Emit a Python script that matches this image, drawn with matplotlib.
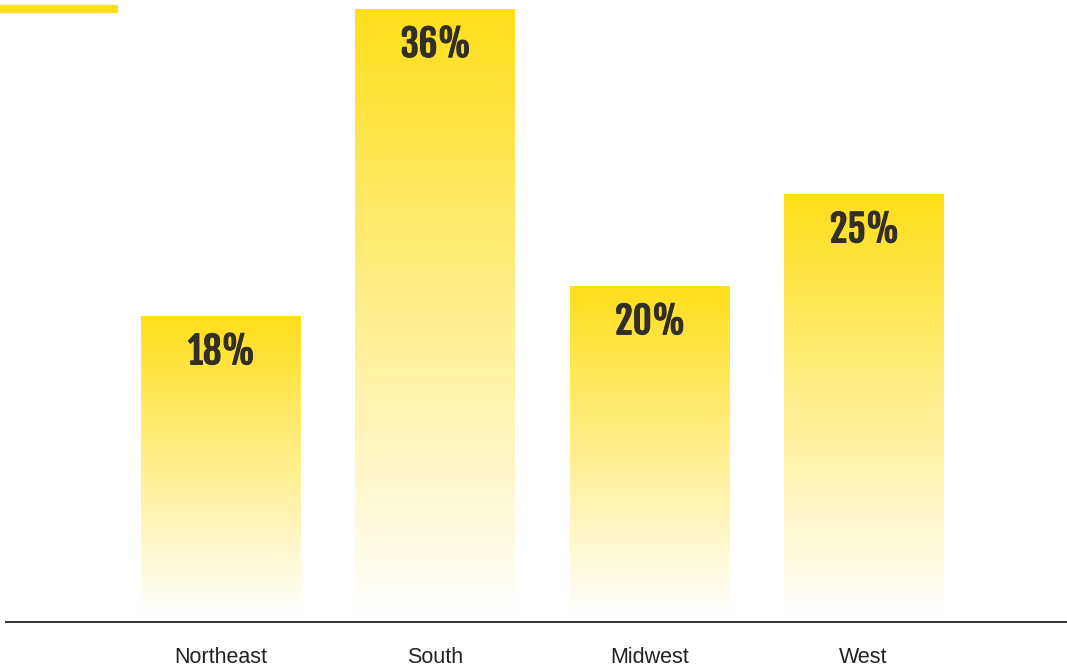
import matplotlib
matplotlib.use('Agg')
import matplotlib.pyplot as plt
import matplotlib.patheffects as pe
import numpy as np
from matplotlib.colors import LinearSegmentedColormap

regions = ['Northeast', 'South', 'Midwest', 'West']
shares = [17.8, 36.2, 19.6, 25.1]
value_labels = ['18%', '36%', '20%', '25%']

YELLOW = '#FFDF1B'
TEXT_DARK = '#332F27'

fig = plt.figure(figsize=(10.67, 6.67), dpi=100)
ax = fig.add_axes([0, 0, 1, 1])
ax.set_xlim(-1.0288, 3.9495)
ax.set_ylim(-3.174, 36.77)
ax.axis('off')

# each bar fades from yellow at the top to white at the baseline
cmap = LinearSegmentedColormap.from_list('fade', ['#FFFFFF', YELLOW])
grad = np.linspace(0, 1, 256).reshape(-1, 1)
width = 0.742

x = np.arange(len(regions))
for xi, v, lab, name in zip(x, shares, value_labels, regions):
    ax.imshow(grad, cmap=cmap, origin='lower', aspect='auto',
              extent=(xi - width / 2, xi + width / 2, 0, v), zorder=1)
    ax.text(xi + 0.005, v - 2.85, lab, ha='center', va='baseline', fontsize=26.5,
            family=['Fjalla One', 'Oswald', 'DejaVu Sans'],
            color=TEXT_DARK, zorder=3,
            path_effects=[pe.withStroke(linewidth=0.8, foreground=TEXT_DARK)])
    ax.text(xi, -2.93, name, ha='center', va='baseline', fontsize=15.5,
            family=['Liberation Sans', 'DejaVu Sans'], color='#222222')

# baseline
ax.plot([-1.0055, 3.9495], [-0.48, -0.48], color='#222222', lw=1.3,
        solid_capstyle='butt', zorder=2, clip_on=False)

# accent bar top-left
fig.add_artist(plt.Line2D([0, 118 / 1067], [1 - 9 / 667, 1 - 9 / 667],
                          color=YELLOW, lw=6, solid_capstyle='butt',
                          transform=fig.transFigure))

fig.savefig('out.png', dpi=100)
